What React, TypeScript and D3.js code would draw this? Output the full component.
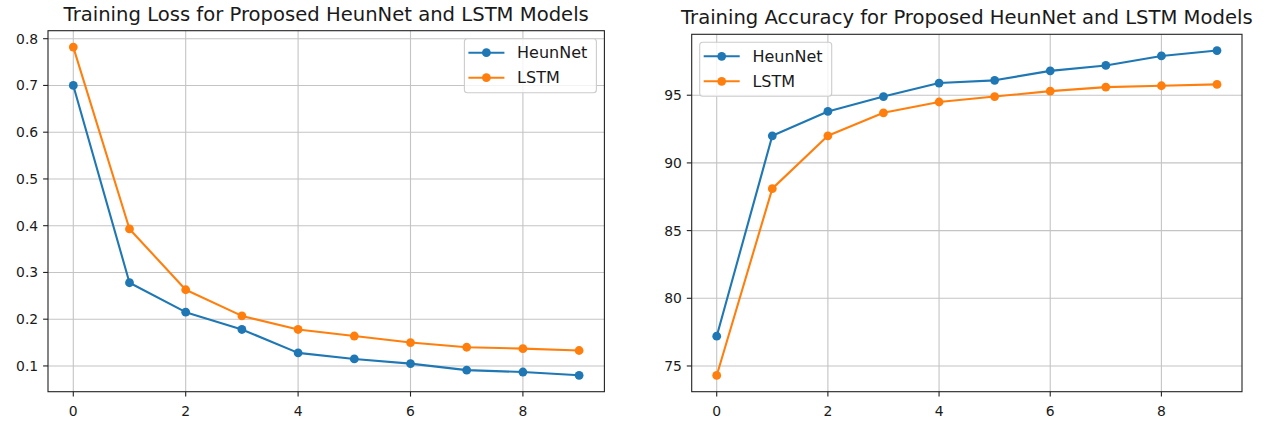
import * as d3 from 'd3'

const epochs = [0, 1, 2, 3, 4, 5, 6, 7, 8, 9]
const heunLoss = [0.7, 0.278, 0.215, 0.178, 0.128, 0.115, 0.105, 0.091, 0.087, 0.08]
const lstmLoss = [0.782, 0.393, 0.263, 0.207, 0.178, 0.164, 0.15, 0.14, 0.137, 0.133]
const heunAcc = [77.2, 92.0, 93.8, 94.9, 95.9, 96.1, 96.8, 97.2, 97.9, 98.3]
const lstmAcc = [74.3, 88.1, 92.0, 93.7, 94.5, 94.9, 95.3, 95.6, 95.7, 95.8]
const xTicks = [0, 2, 4, 6, 8]
const lossTicks = [0.1, 0.2, 0.3, 0.4, 0.5, 0.6, 0.7, 0.8]
const accTicks = [75, 80, 85, 90, 95]
const seriesNames = ['HeunNet', 'LSTM']
const colors = ['#1f77b4', '#ff7f0e']

const FONT = 'DejaVu Sans, sans-serif'
const TEXT = '#1a1a1a'

// matplotlib style auto limits: data range padded by 5% each side
const padded = (vals: number[]): [number, number] => {
  const [lo, hi] = d3.extent(vals) as [number, number]
  const m = (hi - lo) * 0.05
  return [lo - m, hi + m]
}

interface PanelProps {
  box: { left: number; right: number; top: number; bottom: number }
  title: string
  series: number[][]
  yTicks: number[]
  yFormat: (v: number) => string
  legendAt: 'left' | 'right'
}

const Panel = ({ box, title, series, yTicks, yFormat, legendAt }: PanelProps) => {
  const x = d3.scaleLinear().domain(padded(epochs)).range([box.left, box.right])
  const y = d3.scaleLinear().domain(padded(series.flat())).range([box.bottom, box.top])
  const line = d3
    .line<number>()
    .x((_, i) => x(epochs[i]))
    .y(d => y(d))

  const legW = 132
  const legH = 54
  const legX = legendAt === 'right' ? box.right - 8 - legW : box.left + 8
  const legY = box.top + 8

  return (
    <g>
      {/* grid */}
      {xTicks.map(t => (
        <line key={'gx' + t} x1={x(t)} x2={x(t)} y1={box.top} y2={box.bottom} stroke="#c4c4c4" strokeWidth={1.1} />
      ))}
      {yTicks.map(t => (
        <line key={'gy' + t} x1={box.left} x2={box.right} y1={y(t)} y2={y(t)} stroke="#c4c4c4" strokeWidth={1.1} />
      ))}

      {/* series */}
      {series.map((s, si) => (
        <g key={'s' + si}>
          <path d={line(s) ?? ''} fill="none" stroke={colors[si]} strokeWidth={2.1} strokeLinejoin="round" />
          {s.map((v, i) => (
            <circle key={i} cx={x(epochs[i])} cy={y(v)} r={4.4} fill={colors[si]} />
          ))}
        </g>
      ))}

      {/* frame */}
      <rect
        x={box.left}
        y={box.top}
        width={box.right - box.left}
        height={box.bottom - box.top}
        fill="none"
        stroke="#222"
        strokeWidth={1.1}
      />

      {/* x axis */}
      {xTicks.map(t => (
        <g key={'xt' + t}>
          <line x1={x(t)} x2={x(t)} y1={box.bottom} y2={box.bottom + 4.9} stroke="#222" strokeWidth={1.1} />
          <text x={x(t)} y={box.bottom + 24} textAnchor="middle" fontFamily={FONT} fontSize={13.9} fill={TEXT}>
            {t}
          </text>
        </g>
      ))}

      {/* y axis */}
      {yTicks.map(t => (
        <g key={'yt' + t}>
          <line x1={box.left - 4.9} x2={box.left} y1={y(t)} y2={y(t)} stroke="#222" strokeWidth={1.1} />
          <text x={box.left - 9.8} y={y(t) + 5} textAnchor="end" fontFamily={FONT} fontSize={13.9} fill={TEXT}>
            {yFormat(t)}
          </text>
        </g>
      ))}

      {/* title */}
      <text
        x={(box.left + box.right) / 2}
        y={box.top - 10}
        textAnchor="middle"
        fontFamily={FONT}
        fontSize={19.6}
        fill={TEXT}
      >
        {title}
      </text>

      {/* legend */}
      <g transform={`translate(${legX},${legY})`}>
        <rect width={legW} height={legH} rx={3} fill="white" fillOpacity={0.8} stroke="#cccccc" strokeWidth={1.1} />
        {seriesNames.map((name, i) => {
          const cy = 14 + i * 25
          return (
            <g key={name}>
              <line x1={4} x2={40} y1={cy} y2={cy} stroke={colors[i]} strokeWidth={2.1} />
              <circle cx={22} cy={cy} r={4.4} fill={colors[i]} />
              <text x={52.7} y={cy + 5.8} fontFamily={FONT} fontSize={16} fill={TEXT}>
                {name}
              </text>
            </g>
          )
        })}
      </g>
    </g>
  )
}

export default function App() {
  return (
    <svg
      width={1266}
      height={423}
      style={{ position: 'absolute', left: 0, top: 0, background: 'white', display: 'block' }}
    >
      <Panel
        box={{ left: 48, right: 604.4, top: 30.7, bottom: 391.7 }}
        title="Training Loss for Proposed HeunNet and LSTM Models"
        series={[heunLoss, lstmLoss]}
        yTicks={lossTicks}
        yFormat={d3.format('.1f')}
        legendAt="right"
      />
      <Panel
        box={{ left: 691.7, right: 1242, top: 34.3, bottom: 391.7 }}
        title="Training Accuracy for Proposed HeunNet and LSTM Models"
        series={[heunAcc, lstmAcc]}
        yTicks={accTicks}
        yFormat={d3.format('d')}
        legendAt="left"
      />
    </svg>
  )
}
